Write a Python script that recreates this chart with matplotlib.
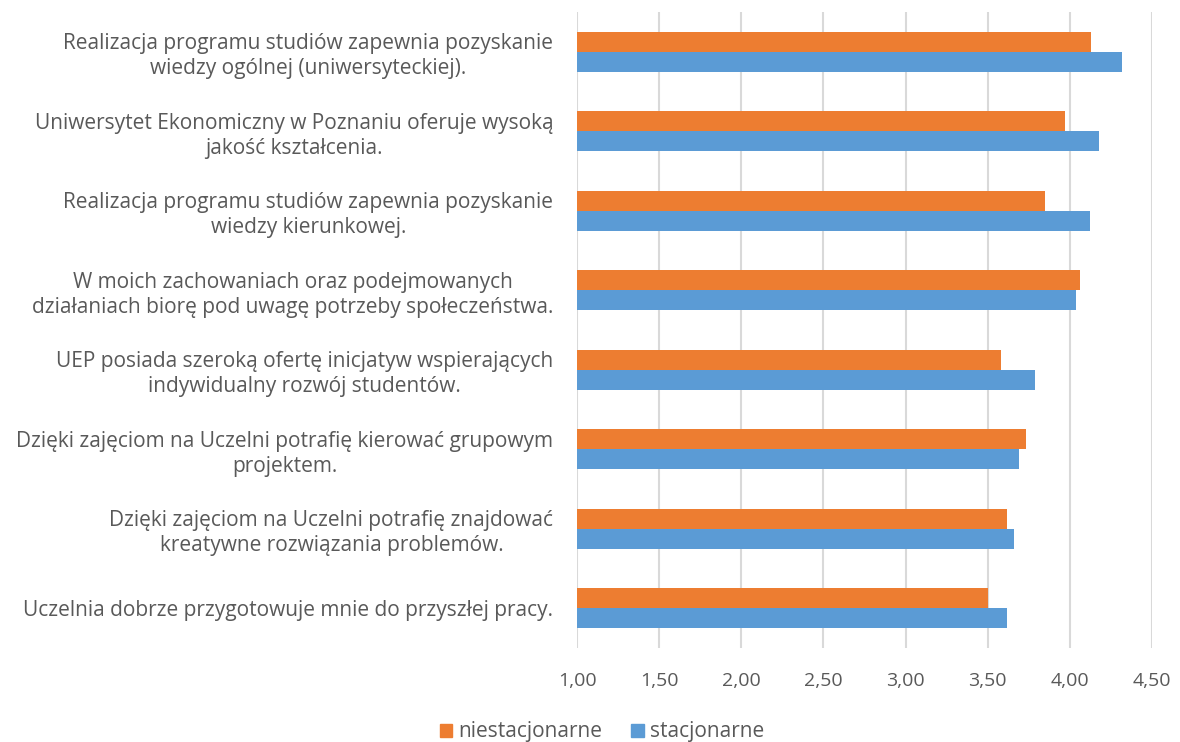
import numpy as np
from matplotlib import pyplot as plt
from matplotlib.patches import Patch

plt.rcParams['font.family'] = ['Open Sans', 'DejaVu Sans']

# Statements (top to bottom) and mean scores
statements = [
    "Realizacja programu studiów zapewnia pozyskanie\nwiedzy ogólnej (uniwersyteckiej).",
    "Uniwersytet Ekonomiczny w Poznaniu oferuje wysoką\njakość kształcenia.",
    "Realizacja programu studiów zapewnia pozyskanie\nwiedzy kierunkowej.",
    "W moich zachowaniach oraz podejmowanych\ndziałaniach biorę pod uwagę potrzeby społeczeństwa.",
    "UEP posiada szeroką ofertę inicjatyw wspierających\nindywidualny rozwój studentów.",
    "Dzięki zajęciom na Uczelni potrafię kierować grupowym\nprojektem.",
    "Dzięki zajęciom na Uczelni potrafię znajdować\nkreatywne rozwiązania problemów.",
    "Uczelnia dobrze przygotowuje mnie do przyszłej pracy.",
]
niestacjonarne = [4.13, 3.97, 3.85, 4.06, 3.58, 3.73, 3.62, 3.50]
stacjonarne = [4.32, 4.18, 4.12, 4.04, 3.79, 3.69, 3.66, 3.62]
xticks = [1.0, 1.5, 2.0, 2.5, 3.0, 3.5, 4.0, 4.5]

orange = '#ED7D31'
blue = '#5B9BD5'
gray = '#595959'

fig = plt.figure(figsize=(11.8, 7.42), dpi=100)
ax = fig.add_axes([577/1180, 1 - 648/742, (1152 - 577)/1180, (648 - 12)/742])

y = np.arange(len(statements))
h = 0.252
start = 1.0
ax.barh(y - h/2, np.array(niestacjonarne) - start, height=h, left=start,
        color=orange, zorder=3)
ax.barh(y + h/2, np.array(stacjonarne) - start, height=h, left=start,
        color=blue, zorder=3)

ax.set_ylim(len(statements) - 0.5, -0.5)
ax.set_xlim(1.0, 4.5)
ax.set_xticks(xticks)
ax.set_xticklabels([f"{v:.2f}".replace('.', ',') for v in xticks],
                   fontsize=14, color=gray)
ax.set_yticks(y)
ax.set_yticklabels(statements, fontsize=15, color=gray,
                   multialignment='center', linespacing=1.25)
ax.tick_params(axis='y', length=0, pad=17)
ax.tick_params(axis='x', length=0, pad=17)
ax.grid(axis='x', color='#D9D9D9', linewidth=1.5, zorder=0)
for s in ax.spines.values():
    s.set_visible(False)

handles = [Patch(color=orange, label='niestacjonarne'),
           Patch(color=blue, label='stacjonarne')]
fig.legend(handles=handles, loc='center', bbox_to_anchor=(602/1180, 1 - 732/742),
           ncol=2, frameon=False, fontsize=15, handlelength=0.6,
           handleheight=0.6, handletextpad=0.3, columnspacing=1.4,
           labelcolor=gray)

fig.savefig("out.png", dpi=100)
